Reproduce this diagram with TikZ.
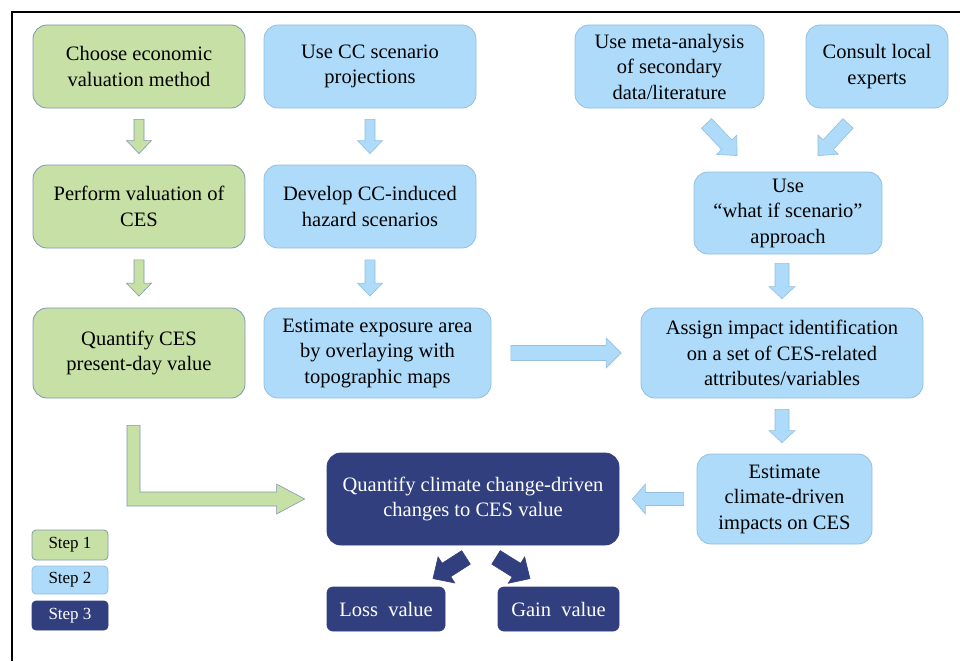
\documentclass[tikz,border=0pt]{standalone}
\usepackage{fontspec}
\setmainfont{Liberation Serif}
\usetikzlibrary{calc,positioning}
\definecolor{cgreen}{HTML}{C6E0A5}
\definecolor{cgreenline}{HTML}{7F98B2}
\definecolor{cblue}{HTML}{ADDBF9}
\definecolor{cblueline}{HTML}{95BEDF}
\definecolor{cnavy}{HTML}{323F7E}

\begin{document}
\begin{tikzpicture}[x=1pt, y=-1pt,
  box/.style={rounded corners=14pt, align=center, inner sep=0pt, line width=0.8pt,
    font=\fontsize{20.5}{25.5}\selectfont},
  gbox/.style={box, draw=cgreenline, fill=cgreen},
  bbox/.style={box, draw=cblueline, fill=cblue},
  dbox/.style={box, draw=cnavy, fill=cnavy, text=white},
  key/.style={rounded corners=4pt, inner sep=0pt, line width=0.8pt, minimum width=76pt,
    font=\fontsize{17}{20}\selectfont},
  % gap / shaft half width / head half width / head length
  blockarr/.style args={#1/#2/#3/#4}{line width=0.6pt, to path={
    ($(\tikztostart)!#1pt!(\tikztotarget)$) coordinate (ba-s)
    ($(\tikztotarget)!#1pt!(\tikztostart)$) coordinate (ba-t)
    ($(ba-t)!#4pt!(ba-s)$) coordinate (ba-h)
    ($(ba-s)!#2pt!90:(ba-t)$) -- ($(ba-h)!#2pt!-90:(ba-s)$) -- ($(ba-h)!#3pt!-90:(ba-s)$)
    -- (ba-t) -- ($(ba-h)!#3pt!90:(ba-s)$) -- ($(ba-h)!#2pt!90:(ba-s)$)
    -- ($(ba-s)!#2pt!-90:(ba-t)$) -- cycle}},
  garr/.style={draw=cgreenline, fill=cgreen, blockarr=#1},
  barr/.style={draw=cblueline, fill=cblue, blockarr=#1},
  narr/.style={draw=cnavy, fill=cnavy, blockarr=#1},
]
\useasboundingbox (0,0) rectangle (960,661);
\draw[line width=1.5pt] (12,661) -- (12,12) -- (960,12);

% step 1 column
\node[gbox, minimum width=212pt, minimum height=83pt] (ch) at (139,66.5) {Choose economic\\valuation method};
\node[gbox, minimum width=212pt, minimum height=83pt] (perf) at (139,206.5) {Perform valuation of\\CES};
\node[gbox, minimum width=212pt, minimum height=90pt] (qcs) at (139,353) {Quantify CES\\present-day value};

% step 2 boxes
\node[bbox, minimum width=212pt, minimum height=83pt] (cc) at (370,66.5) {Use CC scenario\\projections};
\node[bbox, minimum width=212pt, minimum height=83pt] (dev) at (370,206.5) {Develop CC-induced\\hazard scenarios};
\node[bbox, minimum width=227pt, minimum height=90pt] (est) at (377.5,353) {Estimate exposure area\\by overlaying with\\topographic maps};
\node[bbox, minimum width=189pt, minimum height=83pt] (meta) at (669.5,66.5) {Use meta-analysis\\of secondary\\data/literature};
\node[bbox, minimum width=142pt, minimum height=83pt] (expert) at (877,66.5) {Consult local\\experts};
\node[bbox, minimum width=188pt, minimum height=82pt] (what) at (788,213) {Use\\“what if scenario”\\approach};
\node[bbox, minimum width=282pt, minimum height=90pt] (assign) at (782,353) {Assign impact identification\\on a set of CES-related\\attributes/variables};
\node[bbox, minimum width=175pt, minimum height=90pt] (impact) at (784.5,499) {Estimate\\climate-driven\\impacts on CES};

% step 3 boxes
\node[dbox, minimum width=292pt, minimum height=92pt] (chg) at (473,499) {Quantify climate change-driven\\changes to CES value};
\node[dbox, rounded corners=6pt, minimum width=118pt, minimum height=44pt] (loss) at (386,609) {Loss~~value};
\node[dbox, rounded corners=6pt, minimum width=121pt, minimum height=44pt] (gain) at (558.5,609) {Gain~~value};

% legend
\node[key, draw=cgreenline, fill=cgreen, minimum height=30pt] (s1) at (70,545) {Step 1};
\node[key, draw=cblueline, fill=cblue, minimum height=28pt] (s2) at (70,580) {Step 2};
\node[key, draw=cnavy, fill=cnavy, text=white, minimum height=29pt] (s3) at (70,615.5) {Step 3};

% arrow ends
\coordinate (mt) at ($(meta.south)+(37,15)$);
\coordinate (mh) at ($(what.north)+(-51,-16)$);
\coordinate (et) at ($(expert.south)+(-29,15)$);
\coordinate (eh) at ($(what.north)+(30,-16)$);
\coordinate (lt) at ($(chg.south)+(-7,12)$);
\coordinate (lh) at ($(loss.north)+(47,-8)$);
\coordinate (gt) at ($(chg.south)+(23,12)$);
\coordinate (gh) at ($(gain.north)+(-28.5,-8)$);
\coordinate (ltop) at ($(qcs.south)+(-5.5,27)$);
\coordinate (ltip) at ($(chg.west)+(-22,0)$);

\draw[garr={11/5/12.5/13}] (ch.south) to (perf.north);
\draw[garr={11.5/5/12.5/13}] (perf.south) to (qcs.north);
\draw[barr={11/5/12.5/13}] (cc.south) to (dev.north);
\draw[barr={11.5/5/12.5/13}] (dev.south) to (dev.south |- est.north);
\draw[barr={0/7/14/15}] (mt) to (mh);
\draw[barr={0/7/14/15}] (et) to (eh);
\draw[barr={9/7/13/12}] (assign.north |- what.south) to (assign.north);
\draw[barr={19.5/7.5/15/15}] (est.east) to (assign.west);
\draw[barr={11/7/13/12}] (assign.south) to (assign.south |- impact.north);
\draw[barr={13/6.5/15/13}] (impact.west) to (chg.east);
\draw[narr={0/8/15.5/16}] (lt) to (lh);
\draw[narr={0/8/15.5/16}] (gt) to (gh);
\draw[draw=cgreenline, fill=cgreen, line width=0.6pt]
  ($(ltop)+(-6.5,0)$) -- ($(ltop)+(6.5,0)$) -- ($(ltop |- ltip)+(6.5,-7)$)
  -- ($(ltip)+(-28,-7)$) -- ($(ltip)+(-28,-15)$) -- (ltip) -- ($(ltip)+(-28,15)$)
  -- ($(ltip)+(-28,7)$) -- ($(ltop |- ltip)+(-6.5,7)$) -- cycle;
\end{tikzpicture}
\end{document}
